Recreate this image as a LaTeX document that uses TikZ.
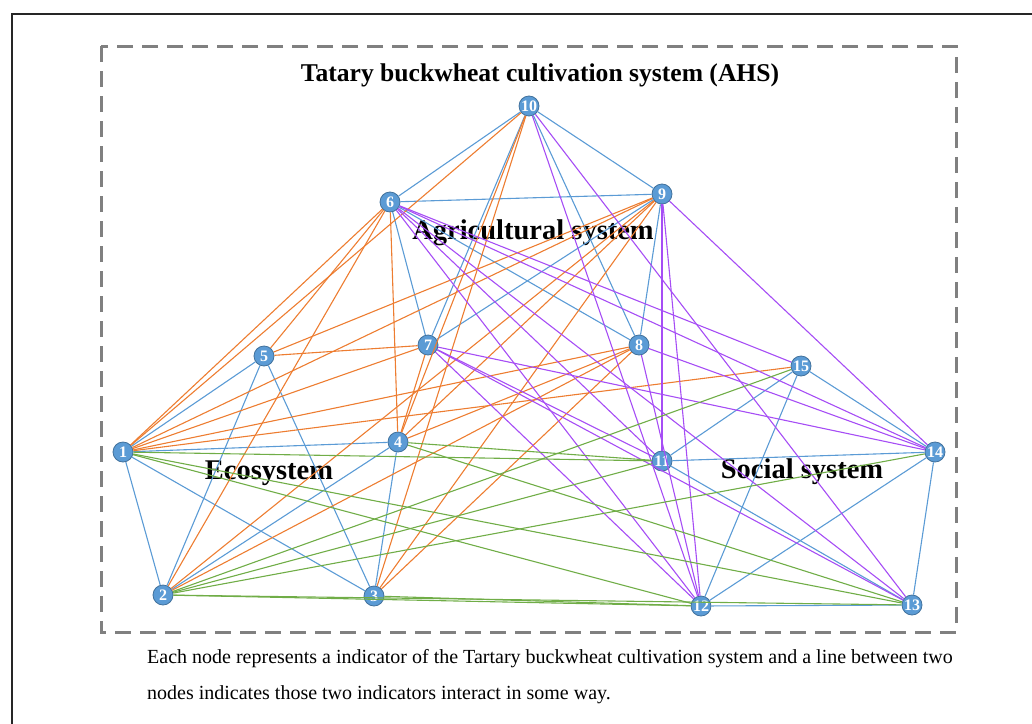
\documentclass[tikz,border=0pt]{standalone}
\usepackage{fontspec}
\setmainfont{Liberation Serif}
\definecolor{lineblue}{HTML}{5B9BD5}
\definecolor{lineorange}{HTML}{ED7D31}
\definecolor{linepurple}{HTML}{A64DF5}
\definecolor{linegreen}{HTML}{70AD47}
\definecolor{nodefill}{HTML}{5B9BD5}
\definecolor{noderim}{HTML}{41719C}
\begin{document}
\begin{tikzpicture}[x=1pt,y=-1pt,
  vertex/.style={circle,draw=noderim,fill=nodefill,line width=0.8pt,inner sep=0pt,minimum size=20pt,
    text=white,font=\fontsize{16}{16}\selectfont\bfseries},
  blueline/.style={draw=lineblue,line width=1.1pt},
  orangeline/.style={draw=lineorange,line width=1.1pt},
  purpleline/.style={draw=linepurple,line width=1.1pt},
  greenline/.style={draw=linegreen,line width=1.1pt},
  region/.style={font=\fontsize{28.5}{30}\selectfont\bfseries},
  caption/.style={anchor=west,inner sep=0pt,font=\fontsize{20}{22}\selectfont}]
            \useasboundingbox (0,0) rectangle (1032,723);
            \clip (0,0) rectangle (1032,723);
            \draw[black!85,line width=1.6pt] (12,14) rectangle (1050,740);
            \draw[black!50,line width=3pt,dash pattern=on 16pt off 9pt] (101,46) rectangle (956,632);

            \node[font=\fontsize{25.6}{28}\selectfont\bfseries] (title) at (540,75) {Tatary buckwheat cultivation system (AHS)};
            \node[region] (agri) at (533,233) {Agricultural system};
            \node[region] (eco) at (269,473) {Ecosystem};
            \node[region] (soc) at (802,472) {Social system};

            \node[vertex] (n1) at (123,452) {1};
            \node[vertex] (n2) at (163,595) {2};
            \node[vertex] (n3) at (374,596) {3};
            \node[vertex] (n4) at (398,442) {4};
            \node[vertex] (n5) at (264,356) {5};
            \node[vertex] (n6) at (390,202) {6};
            \node[vertex] (n7) at (428,345) {7};
            \node[vertex] (n8) at (639,345) {8};
            \node[vertex] (n9) at (662,194) {9};
            \node[vertex] (n10) at (529,106) {10};
            \node[vertex] (n11) at (662,461) {11};
            \node[vertex] (n12) at (701,606) {12};
            \node[vertex] (n13) at (912,605) {13};
            \node[vertex] (n14) at (935,452) {14};
            \node[vertex] (n15) at (801,366) {15};

            % blue links
            \draw[blueline] (n10) -- (n6);
            \draw[blueline] (n10) -- (n9);
            \draw[blueline] (n10) -- (n7);
            \draw[blueline] (n10) -- (n8);
            \draw[blueline] (n6) -- (n9);
            \draw[blueline] (n6) -- (n7);
            \draw[blueline] (n6) -- (n8);
            \draw[blueline] (n9) -- (n7);
            \draw[blueline] (n9) -- (n8);
            \draw[blueline] (n5) -- (n1);
            \draw[blueline] (n5) -- (n2);
            \draw[blueline] (n5) -- (n3);
            \draw[blueline] (n1) -- (n4);
            \draw[blueline] (n1) -- (n2);
            \draw[blueline] (n1) -- (n3);
            \draw[blueline] (n4) -- (n2);
            \draw[blueline] (n4) -- (n3);
            \draw[blueline] (n15) -- (n11);
            \draw[blueline] (n15) -- (n12);
            \draw[blueline] (n15) -- (n14);
            \draw[blueline] (n11) -- (n14);
            \draw[blueline] (n11) -- (n13);
            \draw[blueline] (n14) -- (n12);
            \draw[blueline] (n14) -- (n13);
            \draw[blueline] (n12) -- (n13);

            % orange links
            \draw[orangeline] (n1) -- (n6);
            \draw[orangeline] (n1) -- (n10);
            \draw[orangeline] (n1) -- (n9);
            \draw[orangeline] (n1) -- (n7);
            \draw[orangeline] (n1) -- (n8);
            \draw[orangeline] (n1) -- (n15);
            \draw[orangeline] (n5) -- (n6);
            \draw[orangeline] (n5) -- (n9);
            \draw[orangeline] (n5) -- (n7);
            \draw[orangeline] (n2) -- (n6);
            \draw[orangeline] (n2) -- (n9);
            \draw[orangeline] (n2) -- (n8);
            \draw[orangeline] (n3) -- (n10);
            \draw[orangeline] (n3) -- (n9);
            \draw[orangeline] (n3) -- (n8);
            \draw[orangeline] (n4) -- (n6);
            \draw[orangeline] (n4) -- (n10);
            \draw[orangeline] (n4) -- (n7);
            \draw[orangeline] (n4) -- (n9);
            \draw[orangeline] (n4) -- (n8);

            % purple links
            \draw[purpleline] (n6) -- (n11);
            \draw[purpleline] (n6) -- (n12);
            \draw[purpleline] (n6) -- (n13);
            \draw[purpleline] (n6) -- (n14);
            \draw[purpleline] (n6) -- (n15);
            \draw[purpleline] (n7) -- (n11);
            \draw[purpleline] (n7) -- (n12);
            \draw[purpleline] (n7) -- (n13);
            \draw[purpleline] (n7) -- (n14);
            \draw[purpleline] (n8) -- (n12);
            \draw[purpleline] (n8) -- (n14);
            \draw[purpleline] (n9) -- (n11);
            \draw[purpleline] (n9) -- (n12);
            \draw[purpleline] (n9) -- (n14);
            \draw[purpleline] (n10) -- (n12);
            \draw[purpleline] (n10) -- (n13);

            % green links
            \draw[greenline] (n1) -- (n11);
            \draw[greenline] (n1) -- (n12);
            \draw[greenline] (n1) -- (n13);
            \draw[greenline] (n4) -- (n11);
            \draw[greenline] (n4) -- (n13);
            \draw[greenline] (n2) -- (n15);
            \draw[greenline] (n2) -- (n11);
            \draw[greenline] (n2) -- (n14);
            \draw[greenline] (n2) -- (n12);
            \draw[greenline] (n2) -- (n13);
            \draw[greenline] (n3) -- (n12);

            \node[caption] (cap1) at (147,659) {Each node represents a indicator of the Tartary buckwheat cultivation system and a line between two};
            \node[caption] (cap2) at (147,695) {nodes indicates those two indicators interact in some way.};
        \end{tikzpicture}
\end{document}
